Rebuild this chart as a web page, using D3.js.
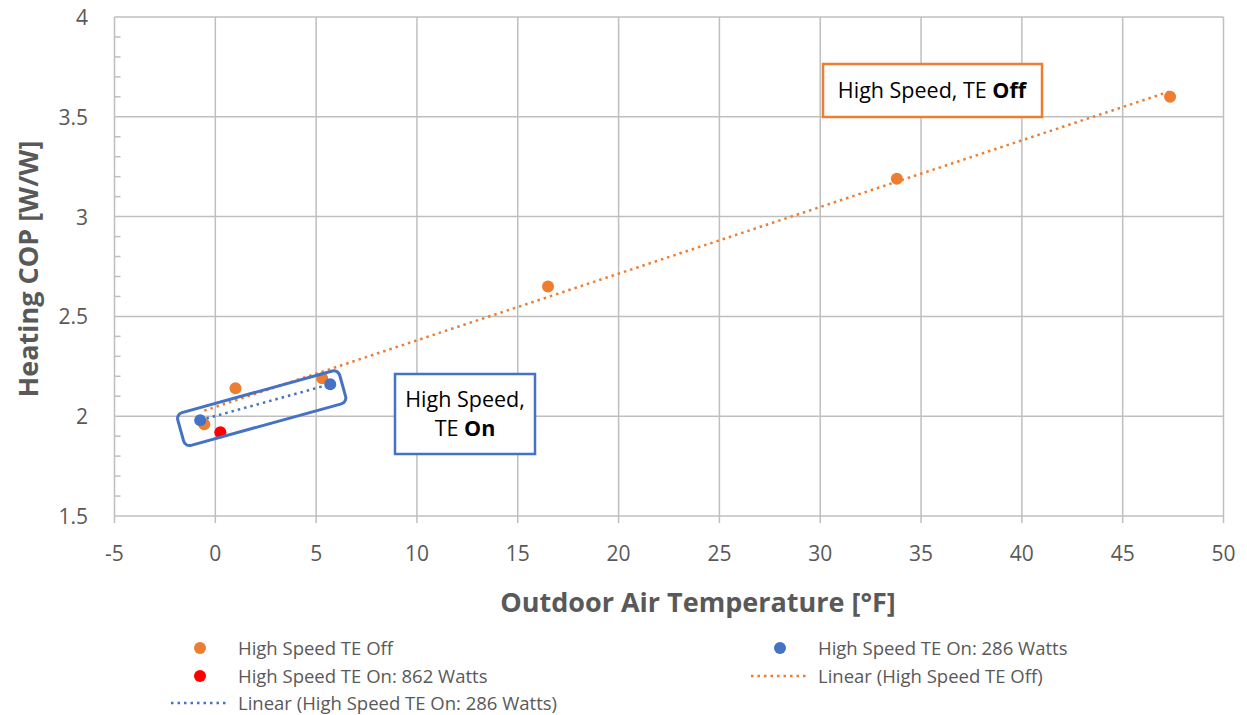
<!DOCTYPE html>
<html>
<head>
<meta charset="utf-8">
<script src="https://cdn.jsdelivr.net/npm/d3@7"></script>
<style>
  body { margin: 0; background: #fff; }
  text { font-family: "Open Sans", Lato, sans-serif; }
</style>
</head>
<body>
<div id="chart"></div>
<script>
// data
var teOffTemp = [-0.55, 1.0, 5.3, 16.5, 33.8, 47.35];
var teOffCop  = [1.96, 2.14, 2.19, 2.65, 3.19, 3.60];
var te286Temp = [-0.75, 5.7];
var te286Cop  = [1.98, 2.16];
var te862Temp = [0.25];
var te862Cop  = [1.92];

var xTicks = [-5, 0, 5, 10, 15, 20, 25, 30, 35, 40, 45, 50];
var yTicks = [1.5, 2, 2.5, 3, 3.5, 4];

var orange = "#ED7D31", blue = "#4472C4", red = "#FF0000";
var grey = "#595959", gridCol = "#BFBFBF";

var W = 1247, H = 715;
var svg = d3.select("#chart").append("svg")
  .attr("width", W).attr("height", H);

var x = d3.scaleLinear().domain([-5, 50]).range([114.5, 1223.5]);
var y = d3.scaleLinear().domain([1.5, 4]).range([516, 17]);

function pts(xs, ys) { return xs.map(function(v, i) { return {x: v, y: ys[i]}; }); }

// least squares line, same as a spreadsheet "Linear" trendline
function linfit(d) {
  var mx = d3.mean(d, function(p){ return p.x; }), my = d3.mean(d, function(p){ return p.y; });
  var num = d3.sum(d, function(p){ return (p.x - mx) * (p.y - my); });
  var den = d3.sum(d, function(p){ return (p.x - mx) * (p.x - mx); });
  var b = num / den, a = my - b * mx;
  var ext = d3.extent(d, function(p){ return p.x; });
  return ext.map(function(v){ return {x: v, y: a + b * v}; });
}

var off = pts(teOffTemp, teOffCop);
var on286 = pts(te286Temp, te286Cop);
var on862 = pts(te862Temp, te862Cop);

// grid
svg.append("g").selectAll("line").data(xTicks).enter().append("line")
  .attr("x1", function(d){ return x(d); }).attr("x2", function(d){ return x(d); })
  .attr("y1", y(4)).attr("y2", y(1.5) + 7)
  .attr("stroke", gridCol).attr("stroke-width", 1.5);
svg.append("g").selectAll("line").data(yTicks).enter().append("line")
  .attr("x1", x(-5)).attr("x2", x(50))
  .attr("y1", function(d){ return y(d); }).attr("y2", function(d){ return y(d); })
  .attr("stroke", gridCol).attr("stroke-width", 1.5);

// minor ticks on the y axis (inside)
var minor = d3.range(15, 40).map(function(v){ return v / 10; }).filter(function(v){ return Math.round(v * 10) % 5 !== 0; });
svg.append("g").selectAll("line").data(minor).enter().append("line")
  .attr("x1", x(-5)).attr("x2", x(-5) + 6)
  .attr("y1", function(d){ return y(d); }).attr("y2", function(d){ return y(d); })
  .attr("stroke", gridCol).attr("stroke-width", 1.5);

// tick labels
svg.append("g").selectAll("text").data(xTicks).enter().append("text")
  .attr("x", function(d){ return x(d); }).attr("y", 561)
  .attr("text-anchor", "middle").attr("fill", grey).attr("font-size", 21)
  .text(function(d){ return d; });
svg.append("g").selectAll("text").data(yTicks).enter().append("text")
  .attr("x", 88).attr("y", function(d){ return y(d) + 8; })
  .attr("text-anchor", "end").attr("fill", grey).attr("font-size", 21)
  .text(function(d){ return d; });

// axis titles
svg.append("text").attr("x", 698).attr("y", 612)
  .attr("text-anchor", "middle").attr("fill", grey).attr("font-size", 27).attr("font-weight", "bold")
  .text("Outdoor Air Temperature [°F]");
svg.append("text").attr("transform", "translate(38,269) rotate(-90)")
  .attr("text-anchor", "middle").attr("fill", grey).attr("font-size", 27).attr("font-weight", "bold")
  .text("Heating COP [W/W]");

// trendlines
var line = d3.line().x(function(d){ return x(d.x); }).y(function(d){ return y(d.y); });
svg.append("path").datum(linfit(off)).attr("d", line)
  .attr("fill", "none").attr("stroke", orange).attr("stroke-width", 2.5)
  .attr("stroke-dasharray", "2.5,4");
svg.append("path").datum(linfit(on286)).attr("d", line)
  .attr("fill", "none").attr("stroke", blue).attr("stroke-width", 2.5)
  .attr("stroke-dasharray", "2.5,4");

// markers
function dots(d, c) {
  svg.append("g").selectAll("circle").data(d).enter().append("circle")
    .attr("cx", function(p){ return x(p.x); }).attr("cy", function(p){ return y(p.y); })
    .attr("r", 6).attr("fill", c);
}
dots(off, orange);
dots(on862, red);
dots(on286, blue);

// rounded box around the TE On points
var cx = x(2.3), cy = y(2.04);
var ang = Math.atan2(y(te286Cop[1]) - y(te286Cop[0]), x(te286Temp[1]) - x(te286Temp[0])) * 180 / Math.PI;
svg.append("rect")
  .attr("x", -84).attr("y", -17).attr("width", 168).attr("height", 34)
  .attr("rx", 6).attr("ry", 6)
  .attr("transform", "translate(" + cx + "," + cy + ") rotate(" + ang + ")")
  .attr("fill", "none").attr("stroke", blue).attr("stroke-width", 3);

// annotation boxes
var offBox = svg.append("g");
offBox.append("rect").attr("x", 823).attr("y", 64).attr("width", 219).attr("height", 53)
  .attr("fill", "#fff").attr("stroke", orange).attr("stroke-width", 2.5);
var t1 = offBox.append("text").attr("x", 932).attr("y", 98).attr("text-anchor", "middle")
  .attr("font-size", 21.5).attr("fill", "#000");
t1.append("tspan").text("High Speed, TE ");
t1.append("tspan").attr("font-weight", "bold").text("Off");

var onBox = svg.append("g");
onBox.append("rect").attr("x", 395).attr("y", 374).attr("width", 140).attr("height", 80)
  .attr("fill", "#fff").attr("stroke", blue).attr("stroke-width", 2.5);
onBox.append("text").attr("x", 465).attr("y", 407).attr("text-anchor", "middle")
  .attr("font-size", 21.5).attr("fill", "#000").text("High Speed,");
var t2 = onBox.append("text").attr("x", 465).attr("y", 436).attr("text-anchor", "middle")
  .attr("font-size", 21.5).attr("fill", "#000");
t2.append("tspan").text("TE ");
t2.append("tspan").attr("font-weight", "bold").text("On");

// legend
var legend = [
  {type: "dot", c: orange, label: "High Speed TE Off", x: 200, y: 648},
  {type: "dot", c: blue, label: "High Speed TE On: 286 Watts", x: 780, y: 648},
  {type: "dot", c: red, label: "High Speed TE On: 862 Watts", x: 200, y: 676},
  {type: "line", c: orange, label: "Linear (High Speed TE Off)", x: 780, y: 676},
  {type: "line", c: blue, label: "Linear (High Speed TE On: 286 Watts)", x: 200, y: 703}
];
var lg = svg.append("g").selectAll("g").data(legend).enter().append("g");
lg.filter(function(d){ return d.type === "dot"; }).append("circle")
  .attr("cx", function(d){ return d.x; }).attr("cy", function(d){ return d.y; })
  .attr("r", 6).attr("fill", function(d){ return d.c; });
lg.filter(function(d){ return d.type === "line"; }).append("line")
  .attr("x1", function(d){ return d.x - 29; }).attr("x2", function(d){ return d.x + 29; })
  .attr("y1", function(d){ return d.y; }).attr("y2", function(d){ return d.y; })
  .attr("stroke", function(d){ return d.c; }).attr("stroke-width", 2.5)
  .attr("stroke-dasharray", "2.5,4");
lg.append("text")
  .attr("x", function(d){ return d.x + 38; }).attr("y", function(d){ return d.y + 7; })
  .attr("font-size", 18.5).attr("fill", grey)
  .text(function(d){ return d.label; });
</script>
</body>
</html>
